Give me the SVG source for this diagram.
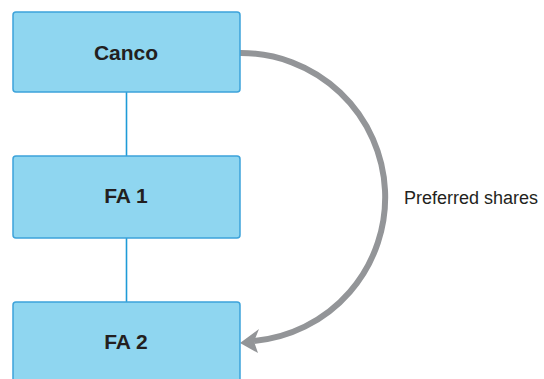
<svg xmlns="http://www.w3.org/2000/svg" width="544" height="379" viewBox="0 0 544 379">
<style>
.box{fill:#8fd6f0;stroke:#3da3da;stroke-width:1.5}
.lbl{font-family:"Liberation Sans",Arial,sans-serif;font-weight:bold;font-size:21px;fill:#231f20;text-anchor:middle}
.link{stroke:#1e9bd7;stroke-width:1.6;fill:none}
.arc{stroke:#939598;stroke-width:6;fill:none}
.note{font-family:"Liberation Sans",Arial,sans-serif;font-size:18px;fill:#231f20}
</style>
<rect width="544" height="379" fill="#ffffff"/>
<g id="connectors">
<line class="link" x1="126.5" y1="92" x2="126.5" y2="156"/>
<line class="link" x1="126.5" y1="238" x2="126.5" y2="302"/>
<path class="arc" d="M240,53 A144.3,144.3 0 0 1 254,341"/>
<path d="M240,343 L259,329 L254,341.5 L258,353 Z" fill="#939598"/>
</g>
<g id="canco">
<rect class="box" x="13" y="12" width="227" height="80" rx="3"/>
<text class="lbl" x="126" y="60">Canco</text>
</g>
<g id="fa1">
<rect class="box" x="13" y="156" width="227" height="82" rx="3"/>
<text class="lbl" x="126" y="203">FA 1</text>
</g>
<g id="fa2">
<rect class="box" x="13" y="302" width="227" height="90" rx="3"/>
<text class="lbl" x="126" y="349">FA 2</text>
</g>
<text id="preferred" class="note" x="404" y="204" textLength="134" lengthAdjust="spacingAndGlyphs">Preferred shares</text>
</svg>
